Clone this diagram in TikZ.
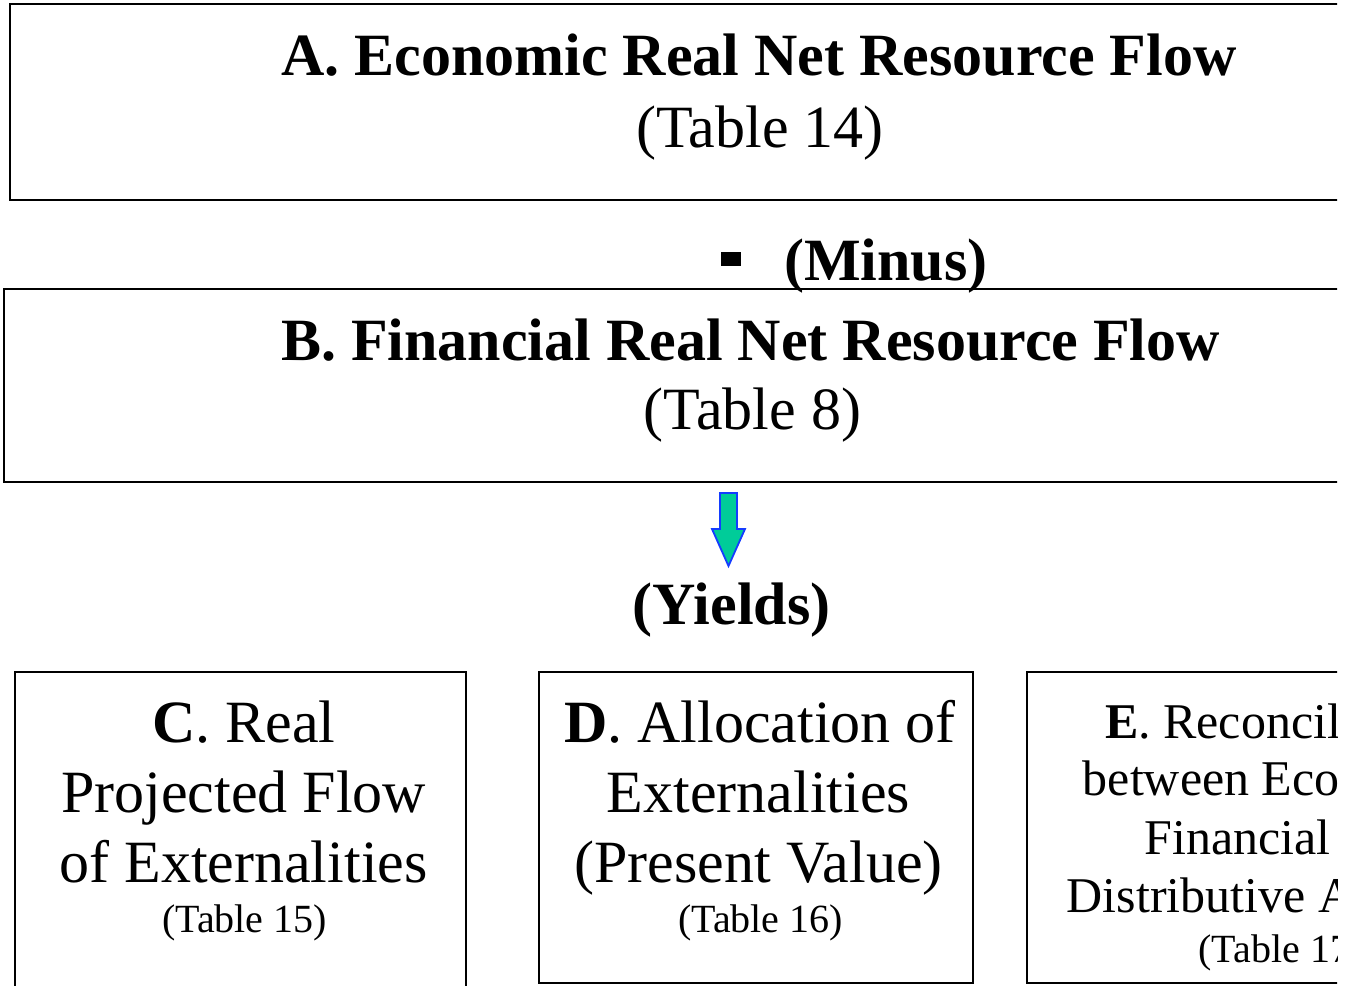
\documentclass[tikz,border=0pt]{standalone}
\usepackage{fontspec}
\setmainfont{Liberation Serif}
\begin{document}
\begin{tikzpicture}[x=1pt,y=-1pt,
  boxshape/.style={draw=black, line width=2.4pt, inner sep=0pt, outer sep=0pt, anchor=north west},
  bigtext/.style={font=\fontsize{60}{69}\selectfont, anchor=base, inner sep=0pt},
  bigbold/.style={font=\fontsize{60}{69}\selectfont\bfseries, anchor=base, inner sep=0pt},
  midtext/.style={font=\fontsize{50}{58}\selectfont, anchor=base, inner sep=0pt},
  smalltext/.style={font=\fontsize{40}{46}\selectfont, anchor=base, inner sep=0pt},
  yieldarrow/.style={fill={rgb,255:red,0;green,204;blue,153}, draw={rgb,255:red,20;green,60;blue,255}, line width=1.8pt, line join=miter}
]
\useasboundingbox (0,0) rectangle (1349,985);
\begin{scope}
\clip (0,0) rectangle (1337,985);

% top two wide boxes
\node[boxshape, minimum width=1400pt, minimum height=196pt] (boxA) at (10,4) {};
\node[boxshape, minimum width=1400pt, minimum height=193pt] (boxB) at (4,289) {};

% bottom row of boxes
\node[boxshape, minimum width=451pt, minimum height=360pt] (boxC) at (15,672) {};
\node[boxshape, minimum width=434pt, minimum height=311pt] (boxD) at (539,672) {};
\node[boxshape, minimum width=506pt, minimum height=311pt] (boxE) at (1027,672) {};

% box A
\node[bigbold] (titleA) at (759,75) {A. Economic Real Net Resource Flow};
\node[bigtext] (tabA) at (760,147) {(Table 14)};

% operator between A and B: a heavy dash, then the word
\node[bigbold] (minus) at (854.5,280) {\rule[14pt]{20pt}{14pt}\hspace{43pt}(Minus)};

% box B
\node[bigbold] (titleB) at (750.5,360) {B. Financial Real Net Resource Flow};
\node[bigtext] (tabB) at (752.5,429) {(Table 8)};

% block arrow
\draw[yieldarrow] (720,493) -- (737,493) -- (737,529) -- (745,529) -- (728.5,566)
  -- (712,529) -- (720,529) -- cycle;

\node[bigbold] (yields) at (731.5,624) {(Yields)};

% box C
\node[bigtext] (c1) at (244,742) {\textbf{C}. Real};
\node[bigtext] (c2) at (243.5,812) {Projected Flow};
\node[bigtext] (c3) at (243.5,882) {of Externalities};
\node[smalltext] (c4) at (244.5,932) {(Table 15)};

% box D
\node[bigtext] (d1) at (760,742) {\textbf{D}. Allocation of};
\node[bigtext] (d2) at (758.5,812) {Externalities};
\node[bigtext] (d3) at (758.5,882) {(Present Value)};
\node[smalltext] (d4) at (760.5,932) {(Table 16)};

% box E
\node[midtext] (e1) at (1280,738) {\textbf{E}. Reconciliation};
\node[midtext] (e2) at (1280,795) {between Economic,};
\node[midtext] (e3) at (1280,854) {Financial and};
\node[midtext] (e4) at (1280,912) {Distributive Analysis};
\node[smalltext] (e5) at (1281,962) {(Table 17)};
\end{scope}
\end{tikzpicture}
\end{document}
